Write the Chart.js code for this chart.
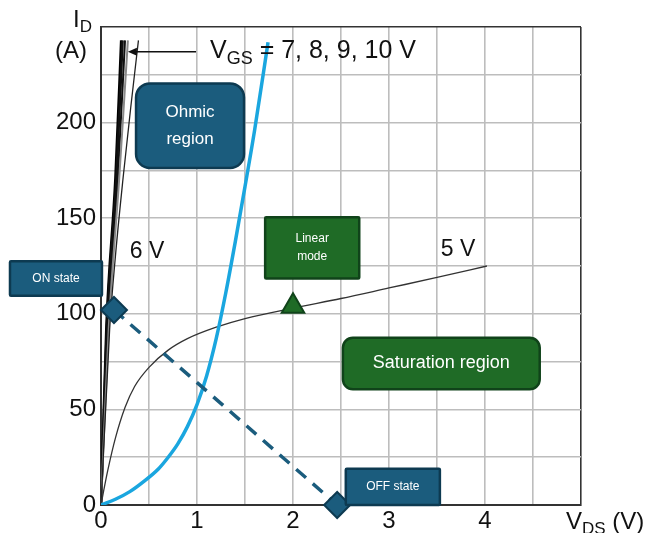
<!DOCTYPE html>
<html>
<head>
<meta charset="utf-8">
<script src="https://cdn.jsdelivr.net/npm/chart.js@4.4.1/dist/chart.umd.min.js"></script>
<style>
	body { margin: 0; background: #fff; }
	#wrap { width: 648px; height: 533px; }
</style>
</head>
<body>
<div id="wrap"><canvas id="chart01" width="648" height="533"></canvas></div>
<script>
// V_DS (V) / I_D (A)
const idSteep = [0, 92, 171, 243];
const vds10 = [0, 0.055, 0.15, 0.21];
const vds9 = [0, 0.06, 0.16, 0.225];
const vds8 = [0, 0.07, 0.175, 0.25];
const vds7 = [0, 0.08, 0.19, 0.28];

const vds6 = [0, 0.09, 0.15, 0.23, 0.31, 0.39];
const id6 = [0, 92, 130, 171, 208, 243];

const vds5 = [0, 0.03, 0.07, 0.15, 0.25, 0.35, 0.5, 0.7, 0.9, 1.2, 1.5, 2.0, 2.5, 3.0, 3.5, 4.02];
const id5 = [0, 8, 18, 35, 51, 62, 72, 81, 87, 93, 97.5, 103, 108, 113.5, 119, 125];

const vdsLoad = [0, 0.15, 0.3, 0.45, 0.6, 0.7, 0.8, 0.9, 1.0, 1.1, 1.2, 1.3, 1.4, 1.5, 1.6, 1.74];
const idLoad = [0, 3, 7, 12.5, 19, 25, 32, 41, 52.5, 67.5, 87, 111, 138, 166.5, 196, 242];

const switchV = [0.135, 2.46]; // ON state, OFF state
const switchI = [102, 0];

const linearV = [2.0];
const linearI = [104];

const xTicks = ["0", "1", "2", "3", "4"];
const yTicks = ["0", "50", "100", "150", "200"];

const toPoints = (xs, ys) => xs.map((x, i) => ({ x, y: ys[i] }));

const BLUE = "#1b5c7d";
const BLUE_EDGE = "#0d3a51";
const GREEN = "#1f6b26";
const GREEN_EDGE = "#10431a";
const FONT = "'Liberation Sans', Arial, sans-serif";

// boxes in data units: [vLeft, vRight, iTop, iBottom]
const boxes = [
	{ lines: ["Ohmic", "region"], pos: [0.365, 1.49, 220.5, 176.3], fill: BLUE, edge: BLUE_EDGE, r: 14, size: 17 },
	{ lines: ["ON state"], pos: [-0.948, 0.01, 127.5, 109.5], fill: BLUE, edge: BLUE_EDGE, r: 1, size: 12 },
	{ lines: ["Linear", "mode"], pos: [1.71, 2.69, 150.5, 118.5], fill: GREEN, edge: GREEN_EDGE, r: 1, size: 12 },
	{ lines: ["Saturation region"], pos: [2.52, 4.57, 87.5, 60.5], fill: GREEN, edge: GREEN_EDGE, r: 10, size: 18 },
	{ lines: ["OFF state"], pos: [2.55, 3.53, 19, 0], fill: BLUE, edge: BLUE_EDGE, r: 1, size: 12 },
];

function textSub(ctx, x, y, parts, size) {
	// parts: [text, isSub]
	let cx = x;
	parts.forEach(([t, sub]) => {
		ctx.font = (sub ? Math.round(size * 0.72) : size) + "px " + FONT;
		ctx.fillText(t, cx, sub ? y + size * 0.22 : y);
		cx += ctx.measureText(t).width;
	});
}

const overlay = {
	id: "overlay",
	afterDatasetsDraw(chart) {
		const { ctx } = chart;
		const sx = chart.scales.x;
		const sy = chart.scales.y;
		ctx.save();

		boxes.forEach((b) => {
			const x1 = sx.getPixelForValue(b.pos[0]);
			const x2 = sx.getPixelForValue(b.pos[1]);
			const y1 = sy.getPixelForValue(b.pos[2]);
			const y2 = sy.getPixelForValue(b.pos[3]);
			ctx.beginPath();
			ctx.roundRect(x1, y1, x2 - x1, y2 - y1, b.r);
			ctx.fillStyle = b.fill;
			ctx.fill();
			ctx.lineWidth = 2.5;
			ctx.strokeStyle = b.edge;
			ctx.stroke();
			ctx.fillStyle = "#fff";
			ctx.font = b.size + "px " + FONT;
			ctx.textAlign = "center";
			ctx.textBaseline = "middle";
			const lh = b.size * 1.55;
			const cy = (y1 + y2) / 2 - ((b.lines.length - 1) * lh) / 2;
			b.lines.forEach((l, i) => ctx.fillText(l, (x1 + x2) / 2, cy + i * lh));
		});

		// arrow to the V_GS curves
		const ay = sy.getPixelForValue(237);
		const ax1 = sx.getPixelForValue(0.99);
		const ax2 = sx.getPixelForValue(0.28);
		ctx.strokeStyle = "#111";
		ctx.fillStyle = "#111";
		ctx.lineWidth = 1.5;
		ctx.beginPath();
		ctx.moveTo(ax1, ay);
		ctx.lineTo(ax2 + 6, ay);
		ctx.stroke();
		ctx.beginPath();
		ctx.moveTo(ax2, ay);
		ctx.lineTo(ax2 + 9, ay - 4);
		ctx.lineTo(ax2 + 9, ay + 4);
		ctx.closePath();
		ctx.fill();

		ctx.textAlign = "left";
		ctx.textBaseline = "alphabetic";
		ctx.fillStyle = "#111";
		textSub(ctx, 210, 58, [["V", false], ["GS", true], [" = 7, 8, 9, 10 V", false]], 25);
		ctx.font = "23px " + FONT;
		ctx.fillText("6 V", sx.getPixelForValue(0.3), sy.getPixelForValue(129));
		ctx.fillText("5 V", sx.getPixelForValue(3.54), sy.getPixelForValue(130));

		// axis titles
		textSub(ctx, 73, 27, [["I", false], ["D", true]], 24);
		ctx.font = "24px " + FONT;
		ctx.fillText("(A)", 55, 58);
		textSub(ctx, 566, 529, [["V", false], ["DS", true], [" (V)", false]], 24);
		ctx.restore();
	},
};

const curve = (label, xs, ys, color, width) => ({
	label,
	data: toPoints(xs, ys),
	showLine: true,
	borderColor: color,
	borderWidth: width,
	pointRadius: 0,
	cubicInterpolationMode: "monotone",
	order: 3,
});

const datasets = [
	{
		label: "switch states",
		data: toPoints(switchV, switchI),
		showLine: false,
		pointStyle: "rectRot",
		pointRadius: 13,
		pointBackgroundColor: BLUE,
		pointBorderColor: BLUE_EDGE,
		pointBorderWidth: 2,
		clip: false,
		order: 0,
	},
	{
		label: "linear mode",
		data: toPoints(linearV, linearI),
		showLine: false,
		pointStyle: "triangle",
		pointRadius: 13,
		pointBackgroundColor: GREEN,
		pointBorderColor: GREEN_EDGE,
		pointBorderWidth: 2,
		clip: false,
		order: 0,
	},
	{
		label: "load line",
		data: toPoints(switchV, switchI),
		showLine: true,
		borderColor: BLUE,
		borderWidth: 3.5,
		borderDash: [13, 9],
		pointRadius: 0,
		order: 1,
	},
	curve("load", vdsLoad, idLoad, "#1aa6df", 3.5),
	curve("VGS 5 V", vds5, id5, "#333", 1.3),
	curve("VGS 6 V", vds6, id6, "#222", 1.3),
	curve("VGS 7 V", vds7, idSteep, "#8a8a8a", 2),
	curve("VGS 8 V", vds8, idSteep, "#111", 2),
	curve("VGS 9 V", vds9, idSteep, "#111", 2.5),
	curve("VGS 10 V", vds10, idSteep, "#000", 2.5),
];

const gridColor = (max) => (c) => (c.tick && c.tick.value === max ? "#333" : "#bdbdbd");

const options = {
	responsive: false,
	animation: false,
	layout: { padding: { top: 27, right: 67, left: 0, bottom: 0 } },
	plugins: {
		legend: { display: false },
		tooltip: { enabled: false },
	},
	scales: {
		x: {
			type: "linear",
			min: 0,
			max: 5,
			afterFit: (s) => { s.height = 28; },
			afterBuildTicks: (s) => { s.ticks = [0, 0.5, 1, 1.5, 2, 2.5, 3, 3.5, 4, 4.5, 5].map((v) => ({ value: v })); },
			border: { color: "#333", width: 2 },
			grid: { color: gridColor(5), lineWidth: 1.6, drawTicks: false },
			ticks: {
				padding: 2,
				color: "#111",
				maxRotation: 0,
				autoSkip: false,
				font: { family: FONT, size: 24 },
				callback: (v) => (Number.isInteger(v) && v < 5 ? xTicks[v] : ""),
			},
		},
		y: {
			type: "linear",
			min: 0,
			max: 250,
			afterFit: (s) => { s.width = 101; },
			afterBuildTicks: (s) => { s.ticks = [0, 25, 50, 75, 100, 125, 150, 175, 200, 225, 250].map((v) => ({ value: v })); },
			border: { color: "#333", width: 2 },
			grid: { color: gridColor(250), lineWidth: 1.6, drawTicks: false },
			ticks: {
				padding: 5,
				color: "#111",
				autoSkip: false,
				font: { family: FONT, size: 24 },
				callback: (v) => (v % 50 === 0 && v < 250 ? yTicks[v / 50] : ""),
			},
		},
	},
};

new Chart(document.querySelector("#chart01"), {
	type: "scatter",
	data: { datasets },
	options,
	plugins: [overlay],
});
</script>
</body>
</html>
